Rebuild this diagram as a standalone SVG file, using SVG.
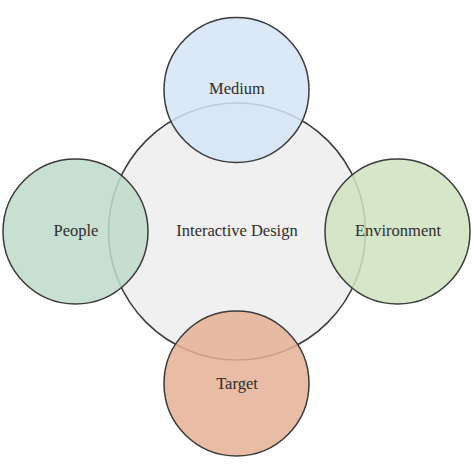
<svg xmlns="http://www.w3.org/2000/svg" width="474" height="474" viewBox="0 0 474 474">
<style>
.c{stroke:#3b3b3b;stroke-width:1.5}
.o{fill-opacity:0.85}
.t{font-family:"Liberation Serif","Times New Roman",serif;font-size:16.5px;fill:#2e2e2e;text-anchor:middle}
</style>
<rect width="474" height="474" fill="#ffffff"/>
<g id="interactive-design">
<circle class="c" cx="237" cy="231.5" r="128.5" fill="#f0f0f0"/>
<text class="t" x="237" y="236">Interactive Design</text>
</g>
<g id="medium">
<circle class="c o" cx="236.5" cy="90" r="72.5" fill="#d4e4f6"/>
<text class="t" x="237" y="94">Medium</text>
</g>
<g id="people">
<circle class="c o" cx="75.5" cy="231.5" r="72.5" fill="#bedac9"/>
<text class="t" x="76" y="236">People</text>
</g>
<g id="environment">
<circle class="c o" cx="397.5" cy="231.5" r="72.5" fill="#cee2bf"/>
<text class="t" x="398" y="236">Environment</text>
</g>
<g id="target">
<circle class="c o" cx="236.5" cy="383.5" r="72.5" fill="#e5b095"/>
<text class="t" x="237" y="389">Target</text>
</g>
<g id="connectors"></g>
</svg>
